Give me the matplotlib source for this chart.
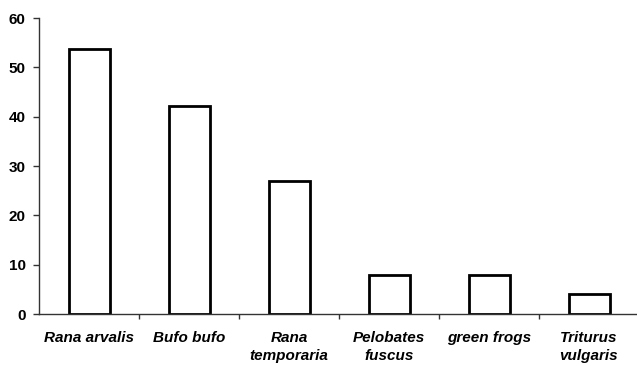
import matplotlib
matplotlib.use('Agg')
import matplotlib.pyplot as plt

species = ['Rana arvalis', 'Bufo bufo', 'Rana\ntemporaria',
           'Pelobates\nfuscus', 'green frogs', 'Triturus\nvulgaris']
counts = [53.8, 42.2, 27.0, 8.0, 8.0, 4.0]
yticks = [0, 10, 20, 30, 40, 50, 60]

plt.rcParams['font.family'] = 'Liberation Sans'

fig = plt.figure(figsize=(6.37, 3.66), dpi=100)
W, H = 637, 366
ax = fig.add_axes([39 / W, (H - 314) / H, 600 / W, 296 / H])

x = list(range(len(species)))
ax.bar(x, counts, width=0.41, color='white', edgecolor='black', linewidth=2)

ax.set_xlim(-0.5, len(species) - 0.5)
ax.set_ylim(0, 60)
ax.set_yticks(yticks)
ax.set_yticklabels([str(t) for t in yticks], fontsize=11, fontweight='bold')

# category labels between boundary ticks
ax.set_xticks([i + 0.5 for i in x[:-1]])
ax.set_xticklabels([])
ax.tick_params(axis='x', direction='out', length=3.5, width=1, color='#333333')
ax.tick_params(axis='y', direction='out', length=4.5, width=1, color='#333333', pad=5)
for i, name in enumerate(species):
    ax.text(i, -3.5, name, ha='center', va='top', fontsize=11, style='italic',
            fontweight='bold', linespacing=1.3, transform=ax.transData)

for s in ['top', 'right']:
    ax.spines[s].set_visible(False)
for s in ['left', 'bottom']:
    ax.spines[s].set_linewidth(1)
    ax.spines[s].set_color('#333333')

fig.savefig('out.png', dpi=100)
